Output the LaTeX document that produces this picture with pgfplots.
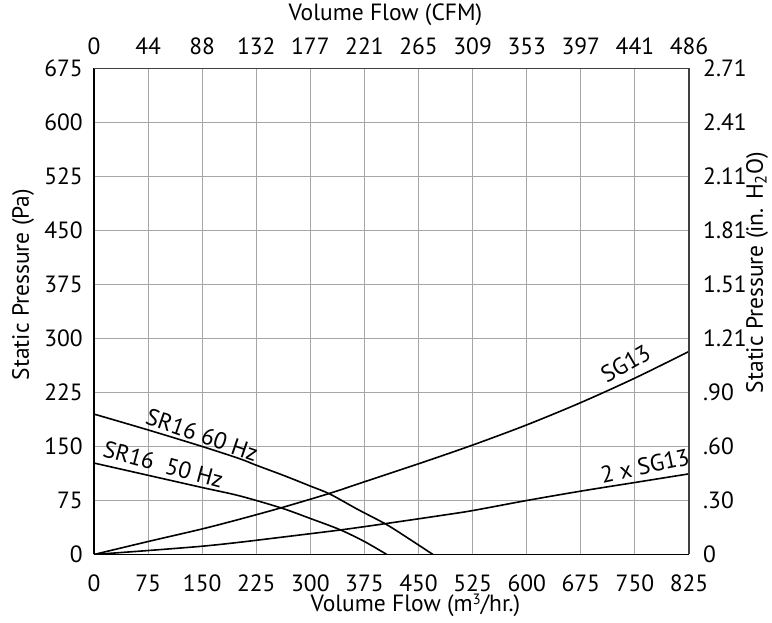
\documentclass[border=0pt]{standalone}
\usepackage{fontspec}
\setmainfont{PT Sans}
\usepackage{pgfplots}
\pgfplotsset{compat=1.18}
\begin{document}
\fontsize{23.5}{26}\selectfont
\begin{tikzpicture}
\path[use as bounding box] (-94pt,-68pt) rectangle (678pt,554.5pt);
\pgfplotsset{
  common/.style={
    scale only axis, width=595pt, height=486pt,
    xmin=0, xmax=825, ymin=0, ymax=675,
    xtick={0,75,...,825}, ytick={0,75,...,675},
    major tick length=0pt,
    tick label style={font=\fontsize{23.5}{26}\selectfont, inner sep=0pt},
    label style={font=\fontsize{23.5}{26}\selectfont, inner sep=0pt},
    /pgf/number format/assume math mode=true,
  }
}
\begin{axis}[common,
  axis x line*=bottom, axis y line*=left,
  grid=major, grid style={line width=1pt, color=black!35},
  axis line style={line width=1.3pt, black},
  xticklabel style={anchor=base, yshift=-37pt},
  yticklabel style={anchor=east, xshift=-11pt},
  xlabel={Volume Flow (m\raisebox{0.3em}{\fontsize{15}{15}\selectfont 3}/hr.)},
  ylabel={Static Pressure (Pa)},
  xlabel style={at={(rel axis cs:0.5,0)}, anchor=base, yshift=-57pt, xshift=24pt},
  ylabel style={at={(rel axis cs:0,0.5)}, anchor=base, xshift=27pt, yshift=65pt},
]
\addplot[black, line width=1.6pt, smooth] coordinates {(0,195) (75,173) (150,150) (202,133) (225,124) (265,109) (300,95) (327,84) (365,63) (405.6,41.6) (438,21) (470,0)};
\addplot[black, line width=1.6pt, smooth] coordinates {(0,127) (75,110) (150,93) (202,81.4) (260,64.5) (300,50) (341,34.5) (375,18) (406,0)};
\addplot[black, line width=1.6pt, smooth] coordinates {(0,0) (75,18) (150,35.5) (202,49) (260,65) (327,85) (375,101) (450,126) (525,152) (600,180) (675,211) (750,245) (825,282)};
\addplot[black, line width=1.6pt, smooth] coordinates {(0,0) (75,5.5) (150,11.5) (202,17) (260,24) (341,34) (405,43) (480,54) (525,61) (600,75) (675,88) (750,100) (825,112)};
\node[rotate=-19] at (axis cs:150,166) {SR16 60 Hz};
\node[rotate=-15] at (axis cs:96,125) {SR16\ \ 50 Hz};
\node[rotate=30] at (axis cs:737,265) {SG13};
\node[rotate=12] at (axis cs:764,123) {2 x SG13};
\end{axis}
\begin{axis}[common,
  axis x line*=top, axis y line*=right,
  axis line style={line width=1.3pt, black!75},
  xticklabels={0,44,88,132,177,221,265,309,353,397,441,486},
  yticklabels={0,.30,.60,.90,1.21,1.51,1.81,2.11,2.41,2.71},
  xticklabel style={anchor=base, yshift=13.5pt},
  yticklabel style={anchor=west, xshift=14pt},
  xlabel={Volume Flow (CFM)},
  ylabel={Static Pressure (in. H\textsubscript{2}O)},
  xlabel style={at={(rel axis cs:0.5,1)}, anchor=base, yshift=47.5pt, xshift=-6pt},
  ylabel style={at={(rel axis cs:1,0.5)}, anchor=base, xshift=39pt, yshift=-74pt},
]
\end{axis}
\end{tikzpicture}
\end{document}
